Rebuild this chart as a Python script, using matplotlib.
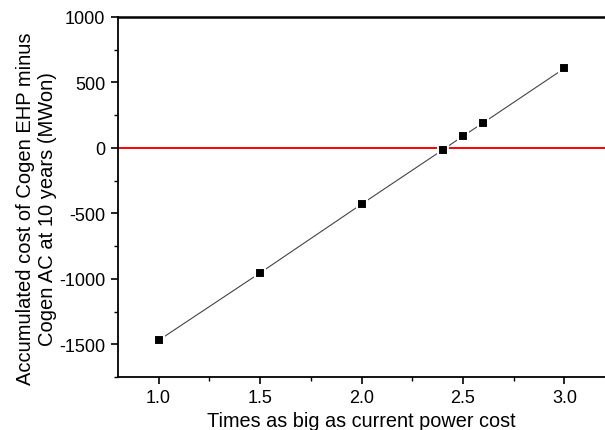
import matplotlib.pyplot as plt
from matplotlib.ticker import MultipleLocator

plt.rcParams['font.family'] = ['Liberation Sans', 'DejaVu Sans']
plt.rcParams['axes.unicode_minus'] = False

# price multiple vs accumulated cost difference
times = [1.0, 1.5, 2.0, 2.4, 2.5, 2.6, 3.0]
cost_diff = [-1470, -955, -430, -15, 90, 192, 608]

fig = plt.figure(figsize=(6.05, 4.31), dpi=100)
ax = fig.add_axes([118/605, 1 - 378/431, 1 - 118/605, (378 - 18)/431])

ax.axhline(0, color='red', lw=1.4, zorder=1)
ax.plot(times, cost_diff, color='#444444', lw=0.8, zorder=2)
ax.plot(times, cost_diff, ls='none', marker='s', ms=7, color='black',
        mec='white', mew=1.5, zorder=3)

ax.set_xlim(0.8, 3.2)
ax.set_ylim(-1750, 1000)
ax.xaxis.set_major_locator(MultipleLocator(0.5))
ax.xaxis.set_minor_locator(MultipleLocator(0.25))
ax.yaxis.set_major_locator(MultipleLocator(500))
ax.yaxis.set_minor_locator(MultipleLocator(250))
ax.xaxis.set_major_formatter(plt.FormatStrFormatter('%.1f'))

ax.spines['right'].set_visible(False)
ax.spines['top'].set_linewidth(1.8)
ax.spines['left'].set_linewidth(1.3)
ax.spines['bottom'].set_linewidth(1.3)
ax.tick_params(which='major', direction='out', length=5, width=1.2,
               labelsize=13, pad=4)
ax.tick_params(which='minor', direction='out', length=3, width=1.0)

ax.set_xlabel('Times as big as current power cost', fontsize=14.3, labelpad=3)
ax.set_ylabel('Accumulated cost of Cogen EHP minus\nCogen AC at 10 years (MWon)',
              fontsize=14.5)
# reference label sits a little below the axes centre
ax.yaxis.set_label_coords(-0.125, 0.47)

fig.savefig('out.png', dpi=100)
